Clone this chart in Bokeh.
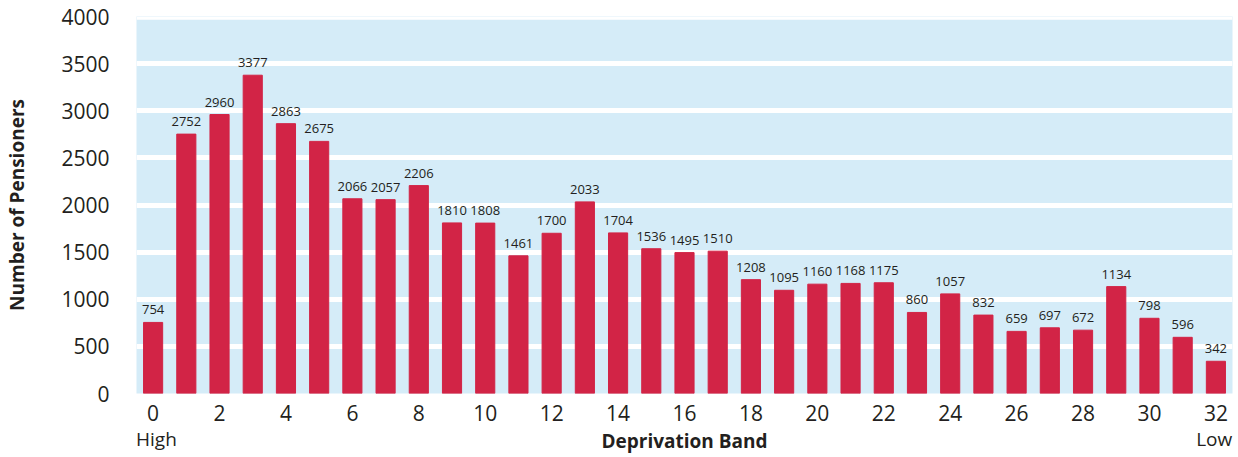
from bokeh.plotting import figure
from bokeh.models import ColumnDataSource, FixedTicker, Range1d, LinearAxis, BoxAnnotation
from bokeh.core.properties import value
from bokeh.embed import file_html
from bokeh.resources import INLINE

bands = list(range(33))
pensioners = [754, 2752, 2960, 3377, 2863, 2675, 2066, 2057, 2206, 1810, 1808, 1461,
              1700, 2033, 1704, 1536, 1495, 1510, 1208, 1095, 1160, 1168, 1175, 860,
              1057, 832, 659, 697, 672, 1134, 798, 596, 342]
x_ticks = list(range(0, 33, 2))
y_ticks = list(range(0, 4001, 500))
end_labels = {0.1: "High", 31.95: "Low"}

FONT = "Open Sans"
TXT = "#231f20"

src = ColumnDataSource(dict(x=bands, y=pensioners, lab=[str(v) for v in pensioners]))

p = figure(width=1238, height=457, output_backend="svg", toolbar_location=None,
           x_range=Range1d(-0.5, 32.5), y_range=Range1d(0, 4000),
           min_border_left=136, min_border_right=6, min_border_top=16, min_border_bottom=64)
p.outline_line_color = None
p.background_fill_color = "#d5ecf8"
p.border_fill_color = "white"

p.vbar(x="x", top="y", width=0.576, source=src, color="#d22446")
p.text(x="x", y="y", text="lab", source=src, text_align="center", text_baseline="bottom",
       y_offset=-8, text_font_size="13px", text_color=TXT, text_font=value(FONT))

p.xgrid.grid_line_color = None
p.ygrid.grid_line_color = "white"
p.ygrid.grid_line_width = 5
p.ygrid.ticker = FixedTicker(ticks=y_ticks)
p.add_layout(BoxAnnotation(bottom=3965, fill_color="white", fill_alpha=1.0, line_color=None))

# second x-axis for High / Low and the axis title
ax2 = LinearAxis(ticker=FixedTicker(ticks=list(end_labels.keys())),
                 major_label_overrides=end_labels)
p.add_layout(ax2, "below")

for ax in (p.xaxis[0], p.yaxis[0], ax2):
    ax.axis_line_color = None
    ax.major_tick_line_color = None
    ax.minor_tick_line_color = None
    ax.major_label_text_font = FONT
    ax.major_label_text_font_size = "21px"
    ax.major_label_text_color = TXT
    ax.axis_label_text_font = FONT
    ax.axis_label_text_font_style = "bold"
    ax.axis_label_text_color = TXT

p.xaxis[0].ticker = FixedTicker(ticks=x_ticks)
p.yaxis.ticker = FixedTicker(ticks=y_ticks)
p.xaxis[0].major_label_standoff = 5
p.yaxis.major_label_standoff = 21

ax2.major_label_text_font_size = "19px"
ax2.major_label_standoff = -4
ax2.axis_label = "Deprivation Band"
ax2.axis_label_text_font_size = "19px"
ax2.axis_label_standoff = -27

p.yaxis.axis_label = "Number of Pensioners"
p.yaxis.axis_label_text_font_size = "19px"
p.yaxis.axis_label_standoff = 28

open("out.html", "w").write(file_html(p, INLINE))
